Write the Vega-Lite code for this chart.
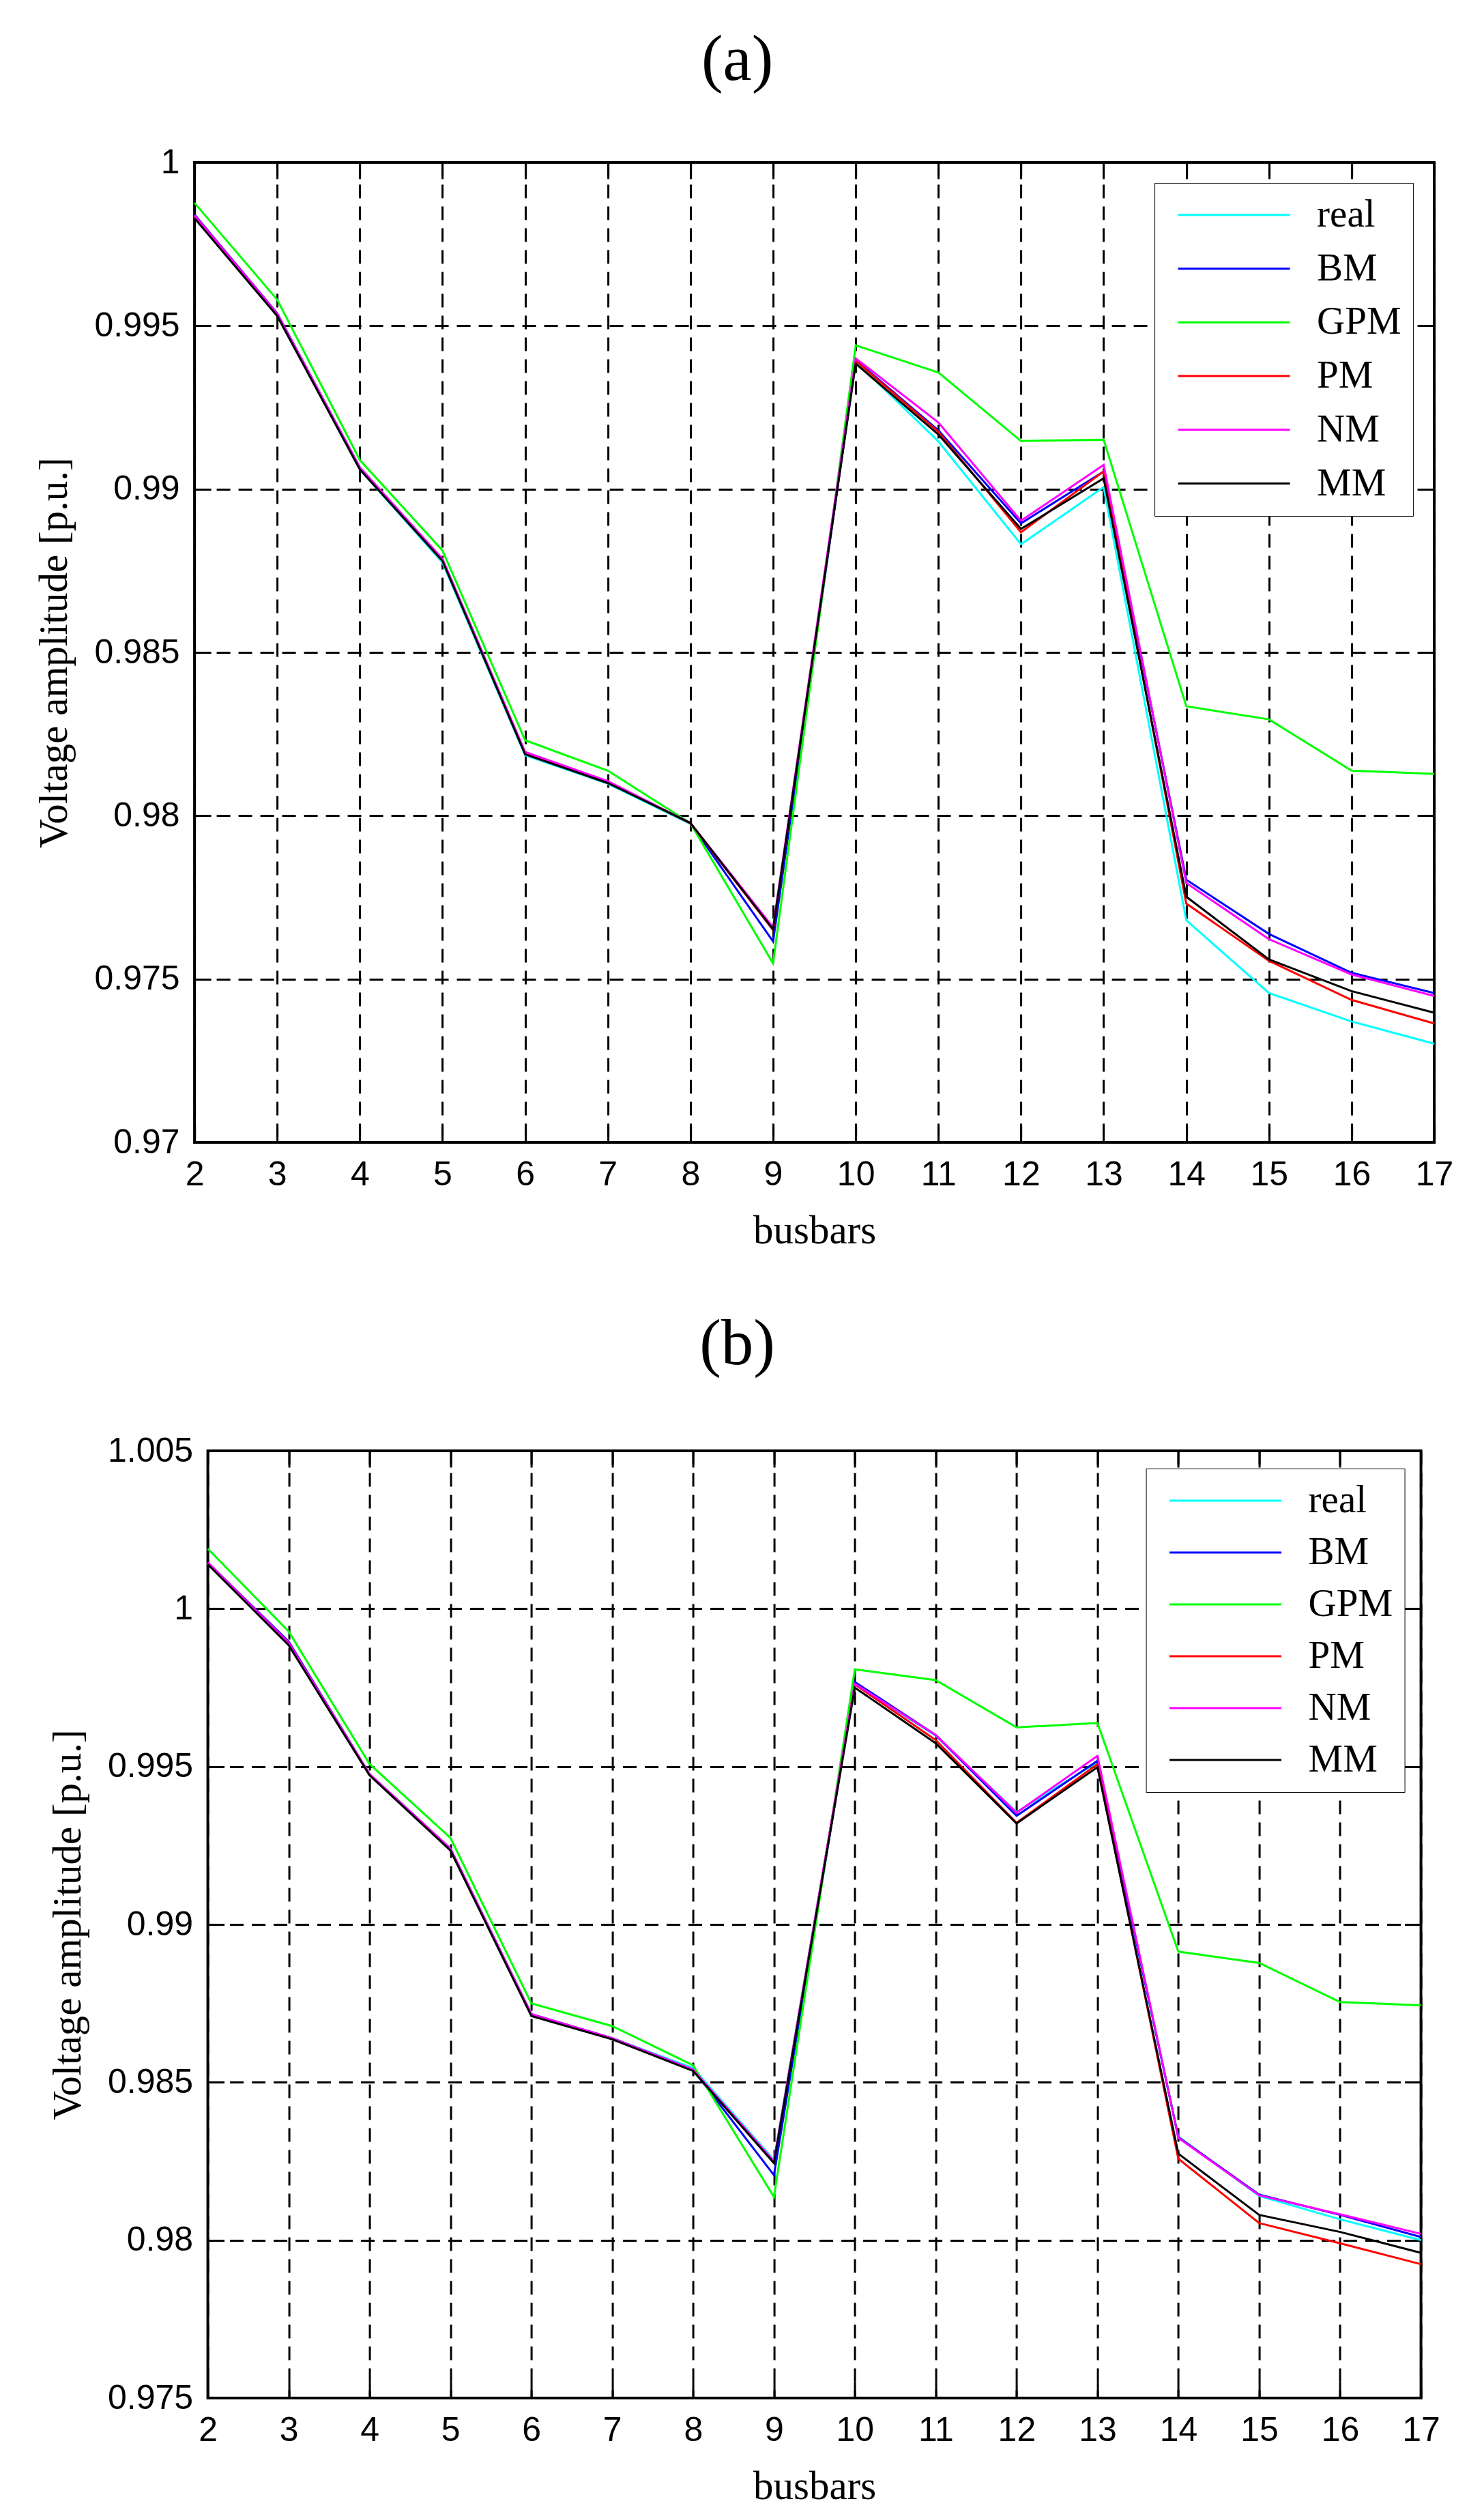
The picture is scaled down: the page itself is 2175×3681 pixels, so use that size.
{
  "$schema": "https://vega.github.io/schema/vega-lite/v6.json",
  "background": "white",
  "padding": {"left": 48, "top": 39, "right": 5, "bottom": 5},
  "spacing": 86,
  "center": true,
  "config": {
    "view": {"stroke": "black", "strokeWidth": 4},
    "axis": {
      "labelFont": "Liberation Sans",
      "labelFontSize": 50,
      "labelColor": "black",
      "labelFlush": false,
      "labelOverlap": false,
      "labelPadding": 46,
      "titleFont": "Liberation Serif",
      "titleFontSize": 59,
      "titleFontWeight": "normal",
      "titleColor": "black",
      "titlePadding": 28,
      "grid": true,
      "gridColor": "black",
      "gridOpacity": 1,
      "gridDash": [20, 12],
      "gridWidth": 3,
      "tickColor": "black",
      "tickSize": -24,
      "tickWidth": 3,
      "domain": false
    },
    "legend": {
      "orient": "none",
      "title": null,
      "symbolType": "stroke",
      "symbolSize": 26896,
      "symbolStrokeWidth": 3,
      "clipHeight": 60,
      "padding": 17,
      "symbolOffset": 16,
      "labelOffset": 38,
      "labelFont": "Liberation Serif",
      "labelFontSize": 57,
      "labelColor": "black",
      "strokeColor": "black",
      "fillColor": "white"
    },
    "title": {
      "font": "Liberation Serif",
      "fontSize": 95,
      "fontWeight": "normal",
      "color": "black",
      "anchor": "middle",
      "frame": "group",
      "baseline": "alphabetic"
    }
  },
  "datasets": {
    "a": [
      {"bus": 2, "series": "real", "v": 0.99835}, {"bus": 2, "series": "BM", "v": 0.9984}, {"bus": 2, "series": "GPM", "v": 0.99876}, {"bus": 2, "series": "PM", "v": 0.99833}, {"bus": 2, "series": "NM", "v": 0.99838}, {"bus": 2, "series": "MM", "v": 0.99829},
      {"bus": 3, "series": "real", "v": 0.99535}, {"bus": 3, "series": "BM", "v": 0.99538}, {"bus": 3, "series": "GPM", "v": 0.9958}, {"bus": 3, "series": "PM", "v": 0.99533}, {"bus": 3, "series": "NM", "v": 0.99537}, {"bus": 3, "series": "MM", "v": 0.9953},
      {"bus": 4, "series": "real", "v": 0.9906}, {"bus": 4, "series": "BM", "v": 0.99066}, {"bus": 4, "series": "GPM", "v": 0.99089}, {"bus": 4, "series": "PM", "v": 0.99063}, {"bus": 4, "series": "NM", "v": 0.99066}, {"bus": 4, "series": "MM", "v": 0.9906},
      {"bus": 5, "series": "real", "v": 0.98775}, {"bus": 5, "series": "BM", "v": 0.98785}, {"bus": 5, "series": "GPM", "v": 0.98812}, {"bus": 5, "series": "PM", "v": 0.98783}, {"bus": 5, "series": "NM", "v": 0.98786}, {"bus": 5, "series": "MM", "v": 0.9878},
      {"bus": 6, "series": "real", "v": 0.98185}, {"bus": 6, "series": "BM", "v": 0.98192}, {"bus": 6, "series": "GPM", "v": 0.98231}, {"bus": 6, "series": "PM", "v": 0.9819}, {"bus": 6, "series": "NM", "v": 0.98195}, {"bus": 6, "series": "MM", "v": 0.98188},
      {"bus": 7, "series": "real", "v": 0.98098}, {"bus": 7, "series": "BM", "v": 0.98104}, {"bus": 7, "series": "GPM", "v": 0.98138}, {"bus": 7, "series": "PM", "v": 0.98103}, {"bus": 7, "series": "NM", "v": 0.98106}, {"bus": 7, "series": "MM", "v": 0.981},
      {"bus": 8, "series": "real", "v": 0.97975}, {"bus": 8, "series": "BM", "v": 0.97977}, {"bus": 8, "series": "GPM", "v": 0.97977}, {"bus": 8, "series": "PM", "v": 0.97977}, {"bus": 8, "series": "NM", "v": 0.97978}, {"bus": 8, "series": "MM", "v": 0.97978},
      {"bus": 9, "series": "real", "v": 0.97655}, {"bus": 9, "series": "BM", "v": 0.97615}, {"bus": 9, "series": "GPM", "v": 0.97548}, {"bus": 9, "series": "PM", "v": 0.9765}, {"bus": 9, "series": "NM", "v": 0.97658}, {"bus": 9, "series": "MM", "v": 0.97652},
      {"bus": 10, "series": "real", "v": 0.9939}, {"bus": 10, "series": "BM", "v": 0.99395}, {"bus": 10, "series": "GPM", "v": 0.9944}, {"bus": 10, "series": "PM", "v": 0.99393}, {"bus": 10, "series": "NM", "v": 0.994}, {"bus": 10, "series": "MM", "v": 0.99384},
      {"bus": 11, "series": "real", "v": 0.99146}, {"bus": 11, "series": "BM", "v": 0.9918}, {"bus": 11, "series": "GPM", "v": 0.99357}, {"bus": 11, "series": "PM", "v": 0.99175}, {"bus": 11, "series": "NM", "v": 0.99204}, {"bus": 11, "series": "MM", "v": 0.99167},
      {"bus": 12, "series": "real", "v": 0.98831}, {"bus": 12, "series": "BM", "v": 0.98895}, {"bus": 12, "series": "GPM", "v": 0.99147}, {"bus": 12, "series": "PM", "v": 0.98868}, {"bus": 12, "series": "NM", "v": 0.98903}, {"bus": 12, "series": "MM", "v": 0.98878},
      {"bus": 13, "series": "real", "v": 0.99006}, {"bus": 13, "series": "BM", "v": 0.99054}, {"bus": 13, "series": "GPM", "v": 0.99151}, {"bus": 13, "series": "PM", "v": 0.99054}, {"bus": 13, "series": "NM", "v": 0.99074}, {"bus": 13, "series": "MM", "v": 0.99033},
      {"bus": 14, "series": "real", "v": 0.9768}, {"bus": 14, "series": "BM", "v": 0.97804}, {"bus": 14, "series": "GPM", "v": 0.98335}, {"bus": 14, "series": "PM", "v": 0.97731}, {"bus": 14, "series": "NM", "v": 0.97794}, {"bus": 14, "series": "MM", "v": 0.97752},
      {"bus": 15, "series": "real", "v": 0.97457}, {"bus": 15, "series": "BM", "v": 0.97638}, {"bus": 15, "series": "GPM", "v": 0.98295}, {"bus": 15, "series": "PM", "v": 0.97556}, {"bus": 15, "series": "NM", "v": 0.97622}, {"bus": 15, "series": "MM", "v": 0.9756},
      {"bus": 16, "series": "real", "v": 0.9737}, {"bus": 16, "series": "BM", "v": 0.97519}, {"bus": 16, "series": "GPM", "v": 0.98138}, {"bus": 16, "series": "PM", "v": 0.97436}, {"bus": 16, "series": "NM", "v": 0.97514}, {"bus": 16, "series": "MM", "v": 0.97463},
      {"bus": 17, "series": "real", "v": 0.97302}, {"bus": 17, "series": "BM", "v": 0.97457}, {"bus": 17, "series": "GPM", "v": 0.98128}, {"bus": 17, "series": "PM", "v": 0.97364}, {"bus": 17, "series": "NM", "v": 0.97448}, {"bus": 17, "series": "MM", "v": 0.97397}
    ],
    "b": [
      {"bus": 2, "series": "real", "v": 1.00144}, {"bus": 2, "series": "BM", "v": 1.00146}, {"bus": 2, "series": "GPM", "v": 1.0019}, {"bus": 2, "series": "PM", "v": 1.00144}, {"bus": 2, "series": "NM", "v": 1.00146}, {"bus": 2, "series": "MM", "v": 1.0014},
      {"bus": 3, "series": "real", "v": 0.99894}, {"bus": 3, "series": "BM", "v": 0.99896}, {"bus": 3, "series": "GPM", "v": 0.99928}, {"bus": 3, "series": "PM", "v": 0.9989}, {"bus": 3, "series": "NM", "v": 0.99892}, {"bus": 3, "series": "MM", "v": 0.99884},
      {"bus": 4, "series": "real", "v": 0.99474}, {"bus": 4, "series": "BM", "v": 0.99476}, {"bus": 4, "series": "GPM", "v": 0.99508}, {"bus": 4, "series": "PM", "v": 0.99474}, {"bus": 4, "series": "NM", "v": 0.99476}, {"bus": 4, "series": "MM", "v": 0.99472},
      {"bus": 5, "series": "real", "v": 0.99238}, {"bus": 5, "series": "BM", "v": 0.9924}, {"bus": 5, "series": "GPM", "v": 0.99274}, {"bus": 5, "series": "PM", "v": 0.99238}, {"bus": 5, "series": "NM", "v": 0.9924}, {"bus": 5, "series": "MM", "v": 0.99234},
      {"bus": 6, "series": "real", "v": 0.98716}, {"bus": 6, "series": "BM", "v": 0.98716}, {"bus": 6, "series": "GPM", "v": 0.9875}, {"bus": 6, "series": "PM", "v": 0.98714}, {"bus": 6, "series": "NM", "v": 0.98716}, {"bus": 6, "series": "MM", "v": 0.9871},
      {"bus": 7, "series": "real", "v": 0.9864}, {"bus": 7, "series": "BM", "v": 0.9864}, {"bus": 7, "series": "GPM", "v": 0.98678}, {"bus": 7, "series": "PM", "v": 0.98638}, {"bus": 7, "series": "NM", "v": 0.9864}, {"bus": 7, "series": "MM", "v": 0.98636},
      {"bus": 8, "series": "real", "v": 0.98545}, {"bus": 8, "series": "BM", "v": 0.9854}, {"bus": 8, "series": "GPM", "v": 0.98554}, {"bus": 8, "series": "PM", "v": 0.98538}, {"bus": 8, "series": "NM", "v": 0.9854}, {"bus": 8, "series": "MM", "v": 0.98536},
      {"bus": 9, "series": "real", "v": 0.98254}, {"bus": 9, "series": "BM", "v": 0.98206}, {"bus": 9, "series": "GPM", "v": 0.98137}, {"bus": 9, "series": "PM", "v": 0.98248}, {"bus": 9, "series": "NM", "v": 0.9825}, {"bus": 9, "series": "MM", "v": 0.98244},
      {"bus": 10, "series": "real", "v": 0.9976}, {"bus": 10, "series": "BM", "v": 0.99768}, {"bus": 10, "series": "GPM", "v": 0.99808}, {"bus": 10, "series": "PM", "v": 0.9976}, {"bus": 10, "series": "NM", "v": 0.99762}, {"bus": 10, "series": "MM", "v": 0.9975},
      {"bus": 11, "series": "real", "v": 0.99598}, {"bus": 11, "series": "BM", "v": 0.996}, {"bus": 11, "series": "GPM", "v": 0.99774}, {"bus": 11, "series": "PM", "v": 0.99584}, {"bus": 11, "series": "NM", "v": 0.996}, {"bus": 11, "series": "MM", "v": 0.99574},
      {"bus": 12, "series": "real", "v": 0.99356}, {"bus": 12, "series": "BM", "v": 0.99344}, {"bus": 12, "series": "GPM", "v": 0.99624}, {"bus": 12, "series": "PM", "v": 0.99322}, {"bus": 12, "series": "NM", "v": 0.99354}, {"bus": 12, "series": "MM", "v": 0.9932},
      {"bus": 13, "series": "real", "v": 0.99514}, {"bus": 13, "series": "BM", "v": 0.99518}, {"bus": 13, "series": "GPM", "v": 0.99638}, {"bus": 13, "series": "PM", "v": 0.99508}, {"bus": 13, "series": "NM", "v": 0.99534}, {"bus": 13, "series": "MM", "v": 0.99498},
      {"bus": 14, "series": "real", "v": 0.98328}, {"bus": 14, "series": "BM", "v": 0.98326}, {"bus": 14, "series": "GPM", "v": 0.98914}, {"bus": 14, "series": "PM", "v": 0.98258}, {"bus": 14, "series": "NM", "v": 0.98324}, {"bus": 14, "series": "MM", "v": 0.98274},
      {"bus": 15, "series": "real", "v": 0.9814}, {"bus": 15, "series": "BM", "v": 0.98144}, {"bus": 15, "series": "GPM", "v": 0.98878}, {"bus": 15, "series": "PM", "v": 0.98054}, {"bus": 15, "series": "NM", "v": 0.98142}, {"bus": 15, "series": "MM", "v": 0.9808},
      {"bus": 16, "series": "real", "v": 0.98066}, {"bus": 16, "series": "BM", "v": 0.9808}, {"bus": 16, "series": "GPM", "v": 0.98754}, {"bus": 16, "series": "PM", "v": 0.9799}, {"bus": 16, "series": "NM", "v": 0.98082}, {"bus": 16, "series": "MM", "v": 0.98026},
      {"bus": 17, "series": "real", "v": 0.98}, {"bus": 17, "series": "BM", "v": 0.9801}, {"bus": 17, "series": "GPM", "v": 0.98744}, {"bus": 17, "series": "PM", "v": 0.97924}, {"bus": 17, "series": "NM", "v": 0.9802}, {"bus": 17, "series": "MM", "v": 0.9796}
    ]
  },
  "resolve": {"scale": {"color": "independent"}, "legend": {"color": "independent"}},
  "vconcat": [
    {
      "title": {"text": "(a)", "dx": -113, "offset": 76},
      "width": 1817,
      "height": 1436,
      "data": {"name": "a"},
      "resolve": {"axis": {"x": "independent", "y": "independent"}},
      "layer": [
        {
          "mark": {"type": "line", "strokeWidth": 3},
          "encoding": {
            "x": {"field": "bus", "type": "quantitative", "title": "busbars",
                  "scale": {"domain": [2, 17], "nice": false},
                  "axis": {"values": [2, 3, 4, 5, 6, 7, 8, 9, 10, 11, 12, 13, 14, 15, 16, 17]}},
            "y": {"field": "v", "type": "quantitative", "title": "Voltage amplitude [p.u.]",
                  "scale": {"domain": [0.97, 1], "nice": false, "zero": false},
                  "axis": {"values": [0.97, 0.975, 0.98, 0.985, 0.99, 0.995, 1], "format": ".4~g"}},
            "color": {"field": "series", "type": "nominal",
                      "scale": {"domain": ["real", "BM", "GPM", "PM", "NM", "MM"],
                                "range": ["#00ffff", "#0000ff", "#00ff00", "#ff0000", "#ff00ff", "#000000"]},
                      "legend": {"legendX": 1407, "legendY": 30, "rowPadding": 18.7}}
          }
        },
        {
          "mark": {"type": "line", "opacity": 0},
          "encoding": {
            "x": {"field": "bus", "type": "quantitative",
                  "axis": {"orient": "top", "values": [3, 4, 5, 6, 7, 8, 9, 10, 11, 12, 13, 14, 15, 16], "labels": false, "grid": false, "title": null}},
            "y": {"field": "v", "type": "quantitative",
                  "axis": {"orient": "right", "values": [0.975, 0.98, 0.985, 0.99, 0.995], "labels": false, "grid": false, "title": null}},
            "detail": {"field": "series"}
          }
        }
      ]
    },
    {
      "title": {"text": "(b)", "dx": -113, "offset": 82},
      "width": 1778,
      "height": 1388,
      "data": {"name": "b"},
      "resolve": {"axis": {"x": "independent", "y": "independent"}},
      "layer": [
        {
          "mark": {"type": "line", "strokeWidth": 3},
          "encoding": {
            "x": {"field": "bus", "type": "quantitative", "title": "busbars",
                  "scale": {"domain": [2, 17], "nice": false},
                  "axis": {"values": [2, 3, 4, 5, 6, 7, 8, 9, 10, 11, 12, 13, 14, 15, 16, 17]}},
            "y": {"field": "v", "type": "quantitative", "title": "Voltage amplitude [p.u.]",
                  "scale": {"domain": [0.975, 1.005], "nice": false, "zero": false},
                  "axis": {"values": [0.975, 0.98, 0.985, 0.99, 0.995, 1, 1.005], "format": ".4~g"}},
            "color": {"field": "series", "type": "nominal",
                      "scale": {"domain": ["real", "BM", "GPM", "PM", "NM", "MM"],
                                "range": ["#00ffff", "#0000ff", "#00ff00", "#ff0000", "#ff00ff", "#000000"]},
                      "legend": {"legendX": 1375, "legendY": 26, "rowPadding": 16}}
          }
        },
        {
          "mark": {"type": "line", "opacity": 0},
          "encoding": {
            "x": {"field": "bus", "type": "quantitative",
                  "axis": {"orient": "top", "values": [3, 4, 5, 6, 7, 8, 9, 10, 11, 12, 13, 14, 15, 16], "labels": false, "grid": false, "title": null}},
            "y": {"field": "v", "type": "quantitative",
                  "axis": {"orient": "right", "values": [0.98, 0.985, 0.99, 0.995, 1], "labels": false, "grid": false, "title": null}},
            "detail": {"field": "series"}
          }
        }
      ]
    }
  ]
}
